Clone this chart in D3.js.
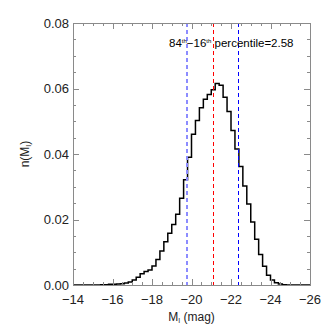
<!DOCTYPE html>
<html><head><meta charset="utf-8">
<script src="https://cdn.jsdelivr.net/npm/d3@7"></script>
<style>body{margin:0;background:#fff}svg{display:block}text{font-family:"Liberation Sans",Arial,sans-serif}</style>
</head><body>
<svg id="c" width="332" height="332"></svg>
<script>
const binStart = -14;
const binWidth = -0.2;
const histValues = [0,0,0,0,0,0,0,0.0001,0.0001,0.0002,0.0002,0.0003,0.0004,0.0006,0.0009,0.0015,0.0024,0.0034,0.0041,0.0046,0.0058,0.0078,0.0104,0.0132,0.0158,0.0185,0.0216,0.0265,0.0321,0.0390,0.0460,0.0502,0.0541,0.0567,0.0582,0.0596,0.0615,0.0610,0.0573,0.0530,0.0472,0.0415,0.0362,0.0302,0.0247,0.0192,0.0140,0.0093,0.0057,0.0030,0.0015,0.0007,0.0003,0.0001,0,0,0,0,0,0];
const xTicks = [-14,-16,-18,-20,-22,-24,-26];
const yTicks = [0.00,0.02,0.04,0.06,0.08];
const medianMag = -21.1;
const p16 = -19.77;
const p84 = -22.33;

const svg = d3.select("#c");
const L=73,R=310,T=23,B=285;
const x = d3.scaleLinear().domain([-14,-26]).range([L,R]);
const y = d3.scaleLinear().domain([0,0.08]).range([B,T]);
const axisCol="#8a8a8a";
const px = v => Math.round(x(v))+0.5;

// histogram step line
const pts=[];
histValues.forEach((v,i)=>{
  const a=binStart+i*binWidth, b=binStart+(i+1)*binWidth;
  pts.push([x(a),y(v)]); pts.push([x(b),y(v)]);
});
svg.append("path").attr("d",d3.line()(pts)).attr("fill","none").attr("stroke","#000").attr("stroke-width",1.5);

// vertical lines
svg.append("line").attr("x1",Math.round(x(p16))).attr("x2",Math.round(x(p16))).attr("y1",T).attr("y2",B)
  .attr("stroke","#8c8cff").attr("stroke-width",2).attr("stroke-dasharray","4,3").attr("shape-rendering","crispEdges");
svg.append("line").attr("x1",px(medianMag)).attr("x2",px(medianMag)).attr("y1",T).attr("y2",B)
  .attr("stroke","#ff0000").attr("stroke-width",1).attr("stroke-dasharray","4,3").attr("shape-rendering","crispEdges");
svg.append("line").attr("x1",px(p84)).attr("x2",px(p84)).attr("y1",T).attr("y2",B)
  .attr("stroke","#0000ff").attr("stroke-width",1).attr("stroke-dasharray","4,3").attr("shape-rendering","crispEdges");

// frame
svg.append("rect").attr("x",L+0.5).attr("y",T+0.5).attr("width",R-L).attr("height",B-T)
  .attr("fill","none").attr("stroke",axisCol).attr("stroke-width",1);

// ticks
const g=svg.append("g").attr("stroke",axisCol).attr("stroke-width",1).attr("shape-rendering","crispEdges");
const xMinor=d3.range(-14,-26.01,-0.5);
xMinor.forEach(v=>{
  const major=xTicks.includes(Math.round(v*10)/10);
  const len=major?6:3;
  g.append("line").attr("x1",px(v)).attr("x2",px(v)).attr("y1",B).attr("y2",B-len);
  g.append("line").attr("x1",px(v)).attr("x2",px(v)).attr("y1",T).attr("y2",T+len);
});
const yMinor=d3.range(0,0.0801,0.005);
yMinor.forEach(v=>{
  const major=yTicks.some(t=>Math.abs(t-v)<1e-6);
  const len=major?6:3;
  const yy=Math.round(y(v))+0.5;
  g.append("line").attr("x1",L).attr("x2",L+len).attr("y1",yy).attr("y2",yy);
  g.append("line").attr("x1",R).attr("x2",R-len).attr("y1",yy).attr("y2",yy);
});

// tick labels
xTicks.forEach(v=>{
  svg.append("text").attr("x",x(v)).attr("y",B+19).attr("text-anchor","middle")
    .attr("font-size",13).attr("fill","#222").text("\u2212"+Math.abs(v));
});
yTicks.forEach(v=>{
  svg.append("text").attr("x",L-4).attr("y",y(v)+4.5).attr("text-anchor","end")
    .attr("font-size",13).attr("fill","#222").text(v.toFixed(2));
});

// axis titles
const xt=svg.append("text").attr("x",(L+R)/2).attr("y",321).attr("text-anchor","middle").attr("font-size",12).attr("fill","#222");
xt.append("tspan").text("M");
xt.append("tspan").attr("font-size",7).attr("dy",2).text("I");
xt.append("tspan").attr("dy",-2).text(" (mag)");

const yt=svg.append("text").attr("transform",`translate(29,${(T+B)/2}) rotate(-90)`).attr("text-anchor","middle").attr("font-size",12).attr("fill","#222");
yt.append("tspan").text("n(M");
yt.append("tspan").attr("font-size",7).attr("dy",2).text("I");
yt.append("tspan").attr("dy",-2).text(")");

// annotation
const an=svg.append("text").attr("x",169).attr("y",47).attr("font-size",11.5).attr("fill","#000");
an.append("tspan").text("84");
an.append("tspan").attr("font-size",6).attr("dy",-4).text("th");
an.append("tspan").attr("dy",4).text("\u221216");
an.append("tspan").attr("font-size",6).attr("dy",-4).text("th");
an.append("tspan").attr("dy",4).text(" percentile=2.58");
</script>
</body></html>
